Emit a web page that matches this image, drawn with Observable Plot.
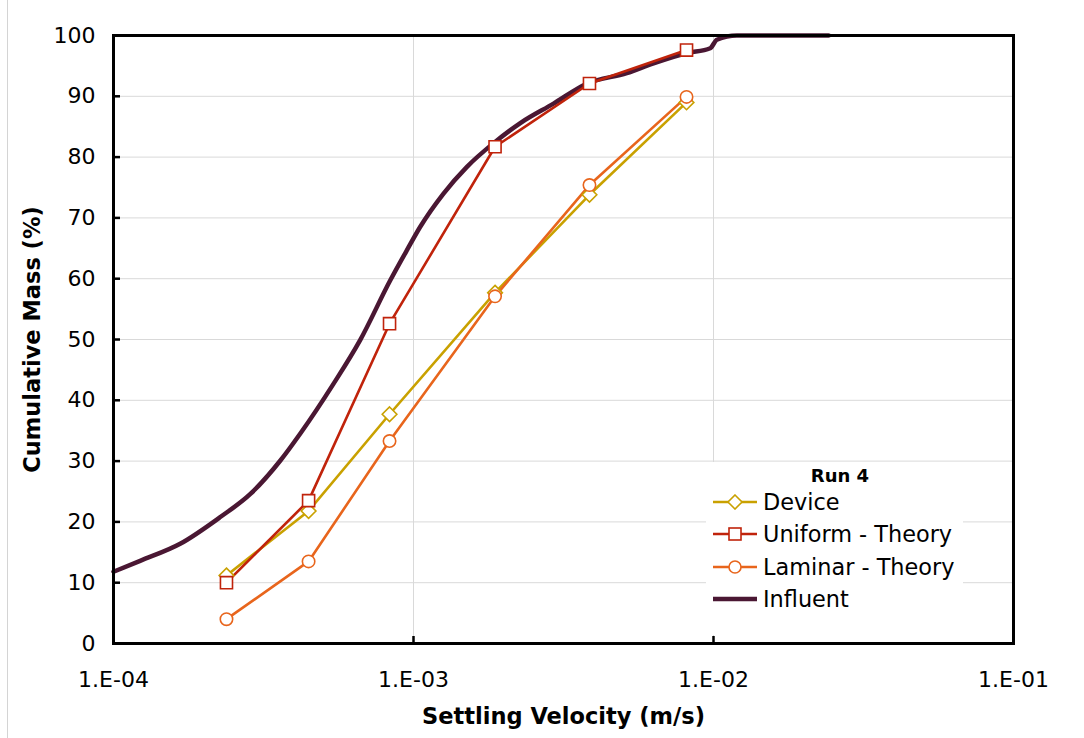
<!DOCTYPE html>
<html><head><meta charset="utf-8">
<script src="https://cdn.jsdelivr.net/npm/d3@7"></script>
<script src="https://cdn.jsdelivr.net/npm/@observablehq/plot@0.6"></script>
<style>
body{margin:0;background:#fff;font-family:"DejaVu Sans",sans-serif;}
#wrap{position:relative;width:1084px;height:738px;overflow:hidden;}
#edge{position:absolute;left:7px;top:0;width:1px;height:738px;background:#d4d4d4;}
#legend{position:absolute;left:706px;top:462px;width:257px;height:173px;background:#fff;}
#legend .ttl{position:absolute;left:0;width:268px;top:3px;text-align:center;font-weight:bold;font-size:18px;line-height:22px;}
#legend .row{position:absolute;left:7px;height:24px;display:flex;align-items:center;font-size:22.4px;white-space:nowrap;}
#legend .row svg{margin-right:6px;}
</style></head><body><div id="wrap"><div id="edge"></div></div>
<script>
// Series (x = settling velocity in m/s, y = cumulative mass in %)
const velocity = [2.38e-4, 4.47e-4, 8.32e-4, 1.87e-3, 3.86e-3, 8.13e-3];
const device = [11.2, 21.8, 37.7, 57.7, 73.8, 89.0];
const uniform = [10.0, 23.5, 52.6, 81.7, 92.1, 97.6];
const laminar = [4.0, 13.5, 33.3, 57.1, 75.4, 89.9];
const influentVelocity = [1e-4, 1.227e-4, 1.668e-4, 2.27e-4, 2.86e-4, 3.60e-4, 4.19e-4, 5.41e-4, 6.64e-4, 8.36e-4, 9.51e-4, 1.052e-3, 1.259e-3, 1.507e-3, 1.849e-3, 2.27e-3, 2.93e-3, 3.79e-3, 5.14e-3, 6.31e-3, 8.15e-3, 9.75e-3, 1.026e-2, 1.197e-2, 2.42e-2];
const influentMass = [11.8, 13.6, 16.4, 20.8, 24.6, 30.1, 34.5, 42.7, 49.9, 59.7, 64.7, 68.5, 74.0, 78.4, 82.3, 85.6, 88.8, 92.1, 93.8, 95.4, 97.1, 97.9, 99.3, 100, 100];
const xTicks = [1e-4, 1e-3, 1e-2, 1e-1];
const yTicks = [0, 10, 20, 30, 40, 50, 60, 70, 80, 90, 100];
const seriesNames = ["Device", "Uniform - Theory", "Laminar - Theory", "Influent"];
const seriesColors = ["#c9a100", "#c0230b", "#e8651c", "#4a1733"];
const seriesSymbols = ["diamond2", "square", "circle", null];
const legendTitle = "Run 4";
const xLabel = "Settling Velocity (m/s)";
const yLabel = "Cumulative Mass (%)";

const pts = (ys) => velocity.map((v, i) => ({v, m: ys[i]}));
const influent = influentVelocity.map((v, i) => ({v, m: influentMass[i]}));
const fmtX = v => "1.E-" + String(Math.round(-Math.log10(v))).padStart(2, "0");

const series = [pts(device), pts(uniform), pts(laminar)];
const dotR = [6.6, 6.8, 6.2];

const marks = [
  Plot.gridY(yTicks, {stroke: "#d9d9d9", strokeOpacity: 1, strokeWidth: 1}),
  Plot.gridX([1e-3, 1e-2], {stroke: "#d9d9d9", strokeOpacity: 1, strokeWidth: 1}),
  Plot.line(influent, {x: "v", y: "m", stroke: seriesColors[3], strokeWidth: 4.5, curve: "monotone-x"})
];
series.forEach((d, i) => {
  marks.push(Plot.line(d, {x: "v", y: "m", stroke: seriesColors[i], strokeWidth: 2.6}));
});
series.forEach((d, i) => {
  marks.push(Plot.dot(d, {x: "v", y: "m", symbol: () => seriesSymbols[i], r: dotR[i], fill: "white", stroke: seriesColors[i], strokeWidth: 1.6}));
});
marks.push(
  Plot.axisY(yTicks, {tickSize: 0, tickPadding: 18, fontSize: 22, label: null}),
  Plot.axisY(yTicks.slice(1, -1), {tickSize: -7, text: null, strokeWidth: 2.5, label: null}),
  Plot.axisX(xTicks, {tickSize: 0, tickPadding: 28, fontSize: 22, tickFormat: fmtX, label: null}),
  Plot.axisX([1e-3, 1e-2], {tickSize: -7, text: null, strokeWidth: 2.5, label: null}),
  Plot.frame({stroke: "black", strokeWidth: 3}),
  Plot.text([xLabel], {frameAnchor: "bottom", lineAnchor: "middle", textAnchor: "middle", dy: 73, fontSize: 22.5, fontWeight: "bold"}),
  Plot.text([yLabel], {frameAnchor: "left", textAnchor: "middle", lineAnchor: "middle", dx: -81, rotate: -90, fontSize: 22.5, fontWeight: "bold"})
);

const chart = Plot.plot({
  width: 1084,
  height: 738,
  marginLeft: 113,
  marginRight: 71,
  marginTop: 35,
  marginBottom: 95,
  style: {fontFamily: "DejaVu Sans, sans-serif", color: "black", background: "white", overflow: "visible"},
  x: {type: "log", domain: [1e-4, 1e-1]},
  y: {domain: [0, 100]},
  marks
});
const wrap = document.getElementById("wrap");
wrap.prepend(chart);

// Legend
const leg = document.createElement("div");
leg.id = "legend";
const t = document.createElement("div");
t.className = "ttl"; t.textContent = legendTitle;
leg.appendChild(t);
const rowCenters = [40, 72, 105, 137];
seriesNames.forEach((name, i) => {
  const row = document.createElement("div");
  row.className = "row";
  row.style.top = (rowCenters[i] - 12) + "px";
  const c = seriesColors[i];
  let sym = "";
  if (seriesSymbols[i] === "diamond2") sym = `<path d="M22,1 L29,8 L22,15 L15,8 Z" fill="white" stroke="${c}" stroke-width="1.6"/>`;
  if (seriesSymbols[i] === "square") sym = `<rect x="16" y="2" width="12" height="12" fill="white" stroke="${c}" stroke-width="1.6"/>`;
  if (seriesSymbols[i] === "circle") sym = `<circle cx="22" cy="8" r="6" fill="white" stroke="${c}" stroke-width="1.6"/>`;
  const sw = seriesSymbols[i] ? 2.6 : 4.5;
  row.innerHTML = `<svg width="44" height="16"><line x1="0" y1="8" x2="44" y2="8" stroke="${c}" stroke-width="${sw}"/>${sym}</svg><span>${name}</span>`;
  leg.appendChild(row);
});
wrap.appendChild(leg);
</script>
</body></html>
